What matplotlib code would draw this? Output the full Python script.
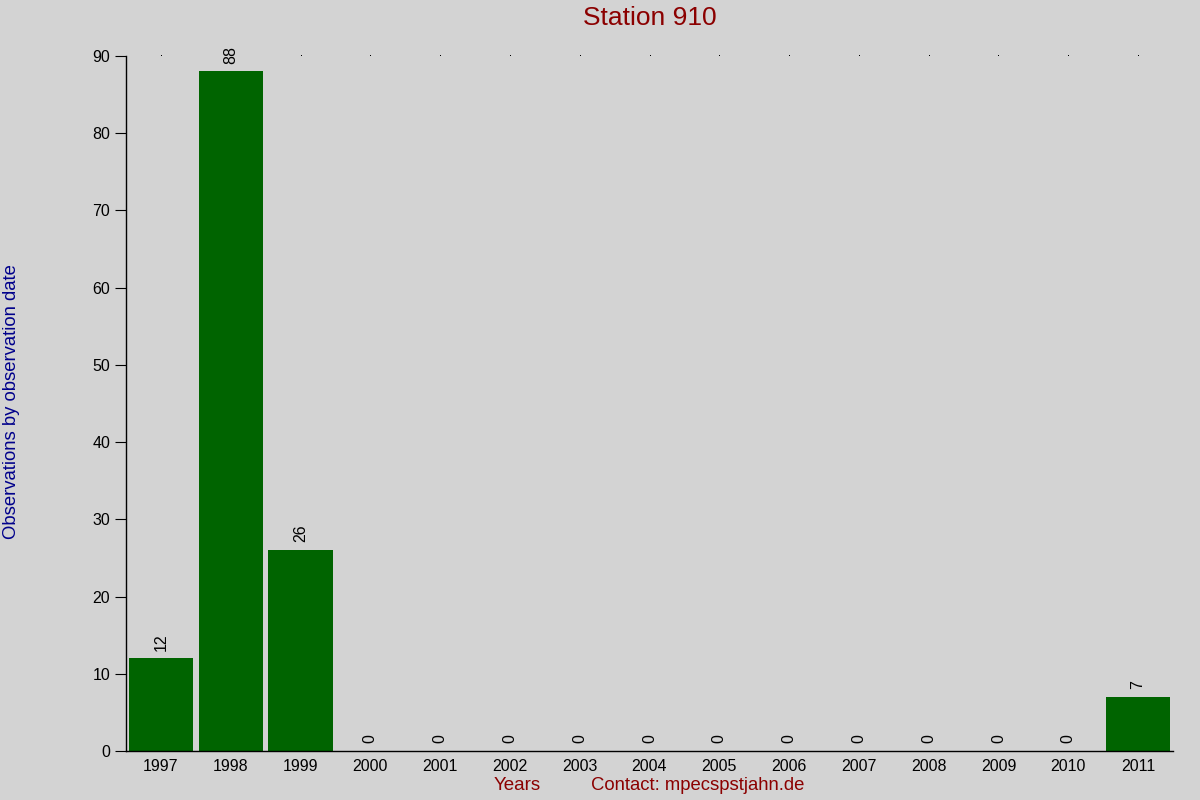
import matplotlib
matplotlib.use("Agg")
import matplotlib.pyplot as plt

years = ["1997", "1998", "1999", "2000", "2001", "2002", "2003", "2004",
         "2005", "2006", "2007", "2008", "2009", "2010", "2011"]
counts = [12, 88, 26, 0, 0, 0, 0, 0, 0, 0, 0, 0, 0, 0, 7]

plt.rcParams["font.family"] = ["Liberation Sans", "DejaVu Sans"]
BG = "#d3d3d3"
RED = "#8b0000"

fig = plt.figure(figsize=(12, 8), dpi=100, facecolor=BG)
ax = fig.add_axes([126 / 1200, 1 - 751 / 800, (1173 - 126) / 1200, (751 - 56) / 800])
ax.set_facecolor(BG)

x = list(range(len(years)))
ax.bar(x, counts, width=0.917, color="#006400")
for xi, c in zip(x, counts):
    ax.text(xi, c + 1, str(c), rotation=90, ha="center", va="bottom", fontsize=11.5)
# single-pixel dots along the top
ax.plot(x, [90] * len(x), ",", color="black", clip_on=False)

ax.set_xlim(-0.5, 14.5)
ax.set_ylim(0, 90)
ax.set_yticks(range(0, 91, 10))
ax.set_xticks(x)
ax.set_xticklabels(years)
ax.tick_params(axis="x", length=0, labelsize=11.5, pad=6)
ax.tick_params(axis="y", length=8, labelsize=11.5, direction="out")
for s in ["top", "right"]:
    ax.spines[s].set_visible(False)
ax.spines["left"].set_linewidth(1)
ax.spines["bottom"].set_linewidth(1)

fig.text(650 / 1200, 1 - 18 / 800, "Station 910", color=RED, fontsize=19,
         ha="center", va="center")
fig.text(12 / 1200, 1 - 402 / 800, "Observations by observation date", color="#00008b",
         fontsize=13.3, rotation=90, ha="center", va="center")
fig.text(517 / 1200, 1 - 786 / 800, "Years", color=RED, fontsize=13.5,
         ha="center", va="center")
fig.text(698 / 1200, 1 - 786 / 800, "Contact: mpecspstjahn.de", color=RED, fontsize=13.3,
         ha="center", va="center")

fig.savefig("out.png", dpi=100, facecolor=BG)
